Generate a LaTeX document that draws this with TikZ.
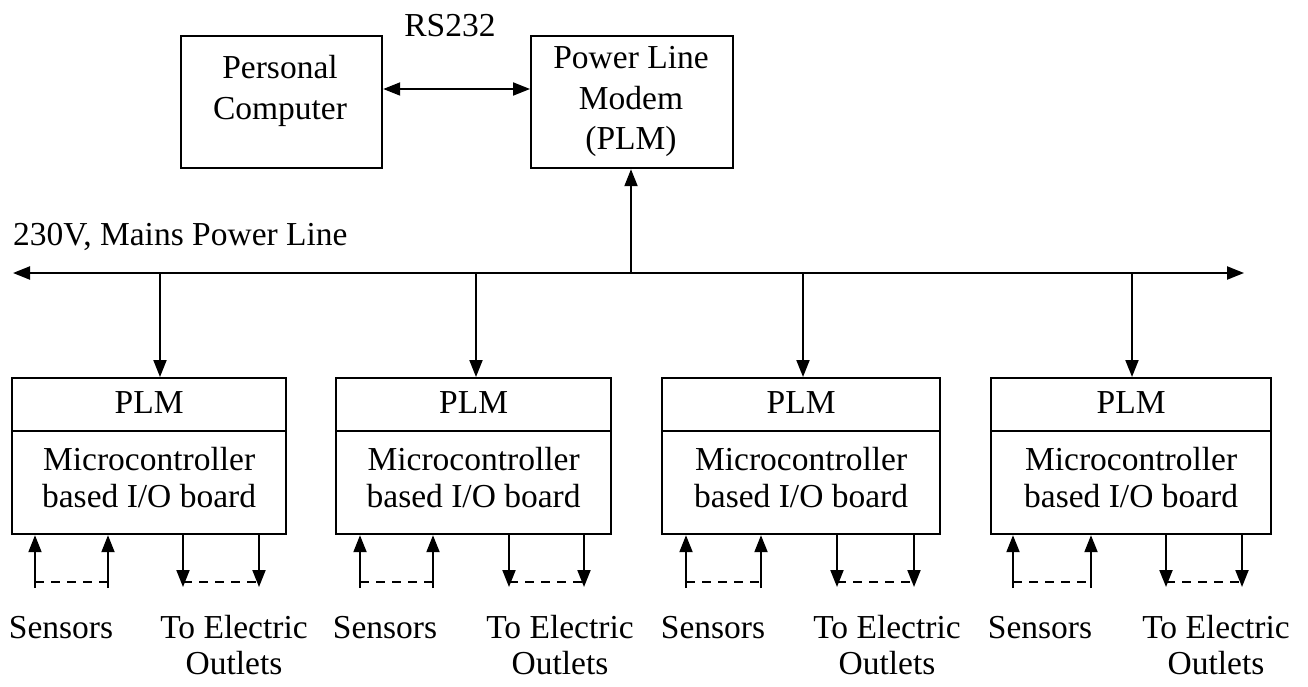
\documentclass[tikz,border=0pt]{standalone}
\usepackage{fontspec}
\setmainfont{Liberation Serif}
\usetikzlibrary{arrows.meta}
\begin{document}
\begin{tikzpicture}[x=1pt,y=-1pt,
  box/.style={draw,line width=2.2pt,inner sep=0pt,anchor=north west},
  txt/.style={inner sep=0pt,anchor=base,font=\fontsize{33.5}{38}\selectfont},
  arr/.style={line width=2pt,-{Triangle[length=17pt,width=13pt]}},
  darr/.style={line width=2pt,{Triangle[length=17pt,width=13pt]}-{Triangle[length=17pt,width=13pt]}},
  dashline/.style={line width=1.6pt,dash pattern=on 9pt off 7pt}]
\useasboundingbox (0,0) rectangle (1308,687);
% top boxes
\node[box,minimum width=201pt,minimum height=132pt] (pc) at (180,35) {};
\node[box,minimum width=202pt,minimum height=132pt] (plm) at (530,35) {};
\node[txt] (pct1) at (280,79) {Personal};
\node[txt] (pct2) at (280,120) {Computer};
\node[txt] (plmt1) at (631,69) {Power Line};
\node[txt] (plmt2) at (631,110) {Modem};
\node[txt] (plmt3) at (631,150) {(PLM)};
\node[txt] (rs) at (450,37) {RS232};
\draw[darr] (pc.east |- 0,89) -- (plm.west |- 0,89);
% bus
\node[txt,anchor=base west] (mains) at (13,245) {230V, Mains Power Line};
\coordinate (busL) at (13,273);
\coordinate (busR) at (1244,273);
\draw[darr,line width=2.2pt] (busL) -- (busR);
\coordinate (bp) at (631,273);
\draw[arr] (bp) -- (plm.south -| bp);
% boards
\foreach \i/\L/\W/\d/\sa/\sb/\oa/\ob/\ts/\te in
  {1/11/274/160/35/108/183/259/61/234,
   2/335/275/476/360/433/509/584/385/560,
   3/661/278/803/686/761/837/914/713/887,
   4/990/280/1132/1013/1091/1166/1242/1040/1216}{
  \node[box,minimum width=\W pt,minimum height=53pt] (plmb\i) at (\L,377) {};
  \node[box,minimum width=\W pt,minimum height=103pt] (mc\i) at (\L,430) {};
  \node[txt] (plmbt\i) at (plmb\i.center |- 0,413) {PLM};
  \node[txt] (mct\i) at (mc\i.center |- 0,470) {Microcontroller};
  \node[txt] (mcu\i) at (mc\i.center |- 0,507) {based I/O board};
  \coordinate (drop\i) at (\d,273);
  \draw[arr] (drop\i) -- (plmb\i.north -| drop\i);
  \coordinate (s\i a) at (\sa,588);
  \coordinate (s\i b) at (\sb,588);
  \coordinate (o\i a) at (\oa,587);
  \coordinate (o\i b) at (\ob,587);
  \draw[arr] (s\i a) -- (mc\i.south -| s\i a);
  \draw[arr] (s\i b) -- (mc\i.south -| s\i b);
  \draw[arr] (mc\i.south -| o\i a) -- (o\i a);
  \draw[arr] (mc\i.south -| o\i b) -- (o\i b);
  \draw[dashline] (\sa,582) -- (\sb,582);
  \draw[dashline] (\oa,582) -- (\ob,582);
  \node[txt] (sens\i) at (\ts,638) {Sensors};
  \node[txt] (te\i) at (\te,638) {To Electric};
  \node[txt] (out\i) at (\te,674) {Outlets};
}
\end{tikzpicture}
\end{document}
